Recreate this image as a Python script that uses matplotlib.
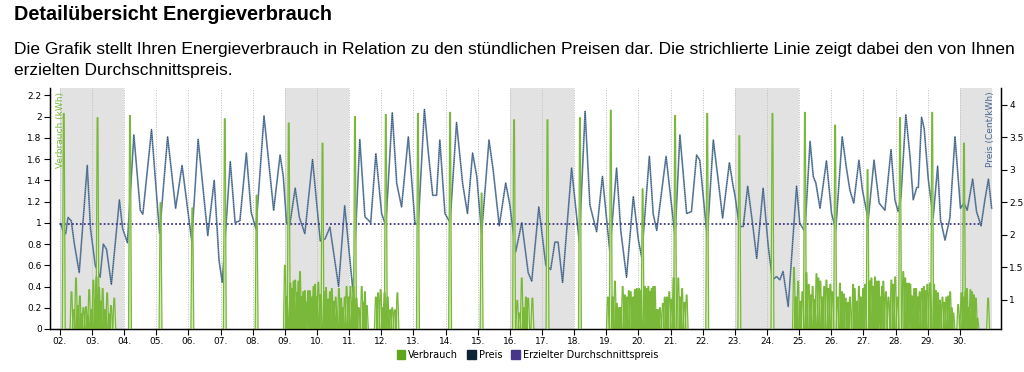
import numpy as np
import matplotlib
matplotlib.use("Agg")
import matplotlib.pyplot as plt
from matplotlib.patches import Patch

# hourly price, sampled at the turning points (day of month, Cent/kWh)
price_day = [2.0, 2.05, 2.12, 2.18, 2.25, 2.35, 2.45, 2.6, 2.85, 2.95, 3.1, 3.25, 3.35, 3.45, 3.6, 3.85, 3.95,
             4.1, 4.3, 4.5, 4.58, 4.85, 5.1, 5.35, 5.6, 5.8, 6.1, 6.3, 6.6, 6.8, 6.95, 7.05, 7.3, 7.45, 7.6,
             7.8, 7.95, 8.1, 8.35, 8.65, 8.85, 8.95, 9.05, 9.15, 9.32, 9.45, 9.62, 9.86, 10.1, 10.25, 10.4,
             10.67, 10.86, 11.12, 11.33, 11.49, 11.67, 11.83, 12.01, 12.14, 12.34, 12.48, 12.63, 12.84,
             13.05, 13.15, 13.34, 13.46, 13.6, 13.72, 13.82, 13.98, 14.14, 14.34, 14.53, 14.68, 14.84,
             14.97, 15.12, 15.35, 15.48, 15.67, 15.87, 16.0, 16.18, 16.37, 16.57, 16.68, 16.9, 17.12,
             17.27, 17.4, 17.5, 17.64, 17.92, 18.16, 18.34, 18.49, 18.7, 18.88, 19.11, 19.32, 19.45,
             19.63, 19.84, 20.0, 20.1, 20.34, 20.46, 20.57, 20.86, 21.14, 21.29, 21.5, 21.65, 21.81,
             21.91, 22.14, 22.33, 22.48, 22.62, 22.83, 22.95, 23.0, 23.14, 23.26, 23.4, 23.55, 23.68,
             23.88, 24.04, 24.17, 24.3, 24.4, 24.5, 24.66, 24.92, 25.02, 25.18, 25.34, 25.44, 25.52,
             25.65, 25.85, 26.01, 26.14, 26.34, 26.48, 26.58, 26.7, 26.86, 26.97, 27.15, 27.33, 27.49,
             27.67, 27.86, 27.98, 28.08, 28.17, 28.32, 28.45, 28.55, 28.66, 28.71, 28.81, 28.89, 29.02,
             29.17, 29.31, 29.4, 29.54, 29.69, 29.85, 30.02, 30.13, 30.23, 30.4, 30.52, 30.66, 30.78,
             30.89, 30.99]
price_ct = [2.17, 2.14, 2.01, 2.02, 2.27, 2.22, 1.86, 1.42, 3.07, 2.10, 1.53, 1.35, 1.86, 1.78, 1.24, 2.54, 2.10,
            1.88, 3.54, 2.38, 2.32, 3.62, 2.02, 3.51, 2.41, 3.07, 1.91, 3.47, 1.99, 2.84, 1.61, 1.27, 3.13, 2.19, 2.22,
            3.26, 2.35, 2.09, 3.83, 2.38, 3.23, 2.90, 2.19, 2.15, 2.72, 2.27, 2.02, 3.16, 1.91, 1.94, 2.12,
            1.21, 2.45, 1.12, 3.47, 2.28, 2.19, 3.25, 2.33, 2.14, 3.88, 2.79, 2.43, 3.51,
            2.17, 2.17, 3.93, 3.28, 2.61, 2.61, 3.46, 2.33, 2.19, 3.73, 2.79, 2.33, 3.26,
            2.90, 2.02, 3.46, 3.00, 2.14, 2.80, 2.46, 1.74, 2.19, 1.42, 1.29, 2.43, 1.53,
            1.47, 1.89, 1.89, 1.27, 3.03, 1.89, 3.90, 2.46, 2.05, 2.90, 1.74, 3.03, 2.07,
            1.35, 2.59, 1.92, 1.66, 3.21, 2.32, 2.07, 3.21, 1.97, 3.54, 2.33, 2.36, 3.23,
            3.15, 1.95, 3.46, 2.85, 2.26, 3.11, 2.74, 2.62, 2.13, 2.13, 2.75, 2.18, 1.64,
            2.72, 1.82, 1.31, 1.36, 1.31, 1.44, 0.90, 2.75, 2.18, 2.05, 3.44, 2.90, 2.80,
            2.41, 3.14, 2.33, 2.08, 3.51, 3.00, 2.69, 2.49, 3.15, 2.69, 2.23, 3.15, 2.49,
            2.38, 3.31, 2.54, 2.36, 2.59, 3.85, 3.21, 2.54, 2.73, 2.73, 3.81, 3.64, 2.85,
            2.26, 3.06, 2.23, 1.92, 2.26, 3.51, 2.41, 2.49, 2.38, 2.86, 2.36, 2.14, 2.54,
            2.86, 2.41]
avg_price = 2.17

# consumption peaks (day of month, kWh)
use_day = [2.12, 3.17, 4.18, 5.13, 6.12, 7.13, 8.12, 9.12, 10.17, 11.18, 12.14, 13.14, 14.14, 15.12,
           16.13, 17.17, 18.18, 19.14, 20.13, 21.14, 22.14, 23.14, 24.17, 25.18, 26.12, 27.13, 28.14,
           29.14, 30.13,
           2.36, 2.43, 2.5, 2.56, 2.62, 2.68, 2.73, 2.81, 2.86, 2.91, 2.97, 3.04, 3.09, 3.14, 3.22,
           3.28, 3.33, 3.4, 3.47, 3.53, 3.59, 3.69,
           9.0, 9.06, 9.17, 9.22, 9.27, 9.32, 9.38, 9.42, 9.47, 9.52, 9.57, 9.62, 9.68, 9.72, 9.78,
           9.84, 9.89, 9.94, 9.99, 10.04, 10.1, 10.22, 10.28, 10.34, 10.4, 10.46, 10.52, 10.58, 10.62,
           10.68, 10.75, 10.8, 10.86, 10.92, 10.98, 11.04, 11.09, 11.13, 11.23, 11.3, 11.39, 11.45,
           11.49, 11.55,
           11.83, 11.9, 11.98, 12.04, 12.1, 12.2, 12.28, 12.34, 12.42, 12.5,
           16.23, 16.3, 16.37, 16.44, 16.5, 16.57, 16.7,
           19.05, 19.2, 19.27, 19.33, 19.4, 19.45, 19.51, 19.58, 19.64, 19.7, 19.76, 19.83, 19.89,
           19.95, 20.02, 20.08, 20.2, 20.26, 20.31, 20.36, 20.41, 20.46, 20.51, 20.57, 20.62, 20.67,
           20.76, 20.82, 20.89, 20.96, 21.03, 21.09, 21.24, 21.3, 21.36, 21.43, 21.5,
           24.84, 24.9, 24.97, 25.03, 25.1, 25.23, 25.3, 25.36, 25.42, 25.48, 25.54, 25.6, 25.66,
           25.72, 25.78, 25.85, 25.91, 25.97, 26.03, 26.2, 26.27, 26.33, 26.39, 26.45, 26.52, 26.58,
           26.68, 26.73, 26.8, 26.86, 26.92, 26.99, 27.05, 27.2, 27.25, 27.31, 27.36, 27.42, 27.48,
           27.52, 27.58, 27.62, 27.7, 27.78, 27.87, 27.93, 27.99, 28.06, 28.24, 28.3, 28.36, 28.42,
           28.46, 28.52, 28.58, 28.64, 28.7, 28.75, 28.82, 28.88, 28.94, 28.99, 29.07, 29.2, 29.26,
           29.32, 29.38, 29.46, 29.52, 29.58, 29.64, 29.7, 29.75, 29.8, 29.95, 30.05, 30.1, 30.18,
           30.22, 30.28, 30.33, 30.38, 30.44, 30.5, 30.55, 30.88]
use_kwh = [2.03, 1.99, 2.01, 1.19, 1.14, 1.98, 1.26, 1.94, 1.75, 2.0, 2.02, 2.03, 2.04, 1.28,
           1.97, 1.97, 1.99, 2.06, 1.32, 2.01, 2.03, 1.82, 2.03, 2.04, 1.92, 1.5, 1.99,
           2.04, 1.75,
           0.35, 0.18, 0.48, 0.22, 0.31, 0.14, 0.2, 0.21, 0.12, 0.37, 0.18, 0.46, 0.28, 0.49, 0.39,
           0.26, 0.38, 0.18, 0.34, 0.14, 0.22, 0.29,
           0.6, 0.3, 0.43, 0.38, 0.45, 0.46, 0.34, 0.45, 0.54, 0.3, 0.35, 0.36, 0.25, 0.36, 0.36,
           0.3, 0.4, 0.42, 0.3, 0.44, 0.32, 0.35, 0.39, 0.28, 0.35, 0.38, 0.26, 0.3, 0.16,
           0.38, 0.29, 0.2, 0.3, 0.4, 0.3, 0.4, 0.25, 0.4, 0.29, 0.2, 0.4, 0.25,
           0.35, 0.22,
           0.3, 0.34, 0.37, 0.2, 0.34, 0.3, 0.18, 0.2, 0.18, 0.34,
           0.27, 0.15, 0.48, 0.2, 0.3, 0.29, 0.29,
           0.3, 0.3, 0.45, 0.24, 0.2, 0.2, 0.4, 0.32, 0.3, 0.36, 0.35, 0.3, 0.37,
           0.38, 0.38, 0.36, 0.4, 0.38, 0.4, 0.35, 0.38, 0.4, 0.4, 0.18, 0.18, 0.2,
           0.24, 0.3, 0.3, 0.35, 0.28, 0.48, 0.48, 0.3, 0.38, 0.25, 0.32,
           0.58, 0.3, 0.45, 0.26, 0.35, 0.53, 0.42, 0.32, 0.4, 0.28, 0.52, 0.48, 0.45,
           0.3, 0.4, 0.46, 0.38, 0.42, 0.35, 0.3, 0.43, 0.35, 0.33, 0.29, 0.25, 0.3,
           0.42, 0.38, 0.26, 0.4, 0.3, 0.38, 0.42, 0.45, 0.48, 0.4, 0.49, 0.45, 0.45,
           0.3, 0.4, 0.45, 0.35, 0.3, 0.46, 0.42, 0.49, 0.3, 0.54, 0.48, 0.43, 0.43,
           0.42, 0.31, 0.38, 0.38, 0.3, 0.35, 0.38, 0.4, 0.36, 0.42, 0.43, 0.42, 0.36,
           0.34, 0.27, 0.3, 0.25, 0.3, 0.31, 0.35, 0.2, 0.15, 0.23, 0.34, 0.3, 0.35,
           0.38, 0.2, 0.37, 0.35, 0.32, 0.29, 0.1, 0.29]

days = list(range(2, 31))
day_labels = ["%02d." % d for d in days]
weekends = [(2, 4), (9, 11), (16, 18), (23, 25), (30, 31)]

green_line = "#7ab83a"
green_fill = "#d6ecbc"
price_col = "#6f8cab"
price_dots = "#223a5c"
avg_col = "#3b3a80"

fig = plt.figure(figsize=(10.24, 3.72), dpi=100)
fig.text(0.014, 0.962, "Detailübersicht Energieverbrauch", fontsize=14.3, fontweight="bold",
         family="Liberation Sans", va="center")
fig.text(0.014, 0.868, "Die Grafik stellt Ihren Energieverbrauch in Relation zu den stündlichen Preisen dar. "
         "Die strichlierte Linie zeigt dabei den von Ihnen", fontsize=12.55, family="Liberation Sans",
         va="center")
fig.text(0.014, 0.81, "erzielten Durchschnittspreis.", fontsize=12.55, family="Liberation Sans", va="center")

ax = fig.add_axes([0.0488, 0.1156, 0.9287, 0.6478])
ax2 = ax.twinx()
ax.set_zorder(ax2.get_zorder() + 1)
ax.patch.set_visible(False)

# weekends and day grid go on the bottom axes
for a, b in weekends:
    ax2.axvspan(a, b, color="#e2e2e2", lw=0, zorder=0)
for d in days:
    ax2.axvline(d, color="#bdbdbd", lw=0.7, ls=(0, (1, 1.5)), zorder=0.5)

# price curve and average price
ax2.plot(price_day, price_ct, color=price_col, lw=1.2, zorder=2)
ax2.plot(price_day, price_ct, color=price_dots, lw=0.55, ls=(0, (1, 1.6)), zorder=2.1)
ax2.axhline(avg_price, xmin=0.0105, xmax=0.98, color=avg_col, lw=1.3, ls=(0, (1, 1.2)), zorder=3)

# consumption spikes, each one a narrow trapezoid
order = np.argsort(use_day)
t = np.array(use_day)[order]
h = np.array(use_kwh)[order]
w, top = 0.045, 0.012
for ti, hi in zip(t, h):
    ax.fill([ti - w, ti - top, ti + top, ti + w], [0, hi, hi, 0], color=green_fill, lw=0, zorder=1)
nan = np.full_like(t, np.nan)
zero = np.zeros_like(h)
xs = np.column_stack([t - w, t - top, t + top, t + w, nan]).ravel()
ys = np.column_stack([zero, h, h, zero, nan]).ravel()
ax.plot(xs, ys, color=green_line, lw=0.9, zorder=2)

ax.set_xlim(1.69, 31.28)
ax.set_ylim(0, 2.27)
ax2.set_ylim(0.554, 4.26)
ax.set_xticks(days)
ax.set_xticklabels(day_labels)
ax.set_yticks(np.arange(0, 2.3, 0.2))
ax.set_yticklabels(["0", "0.2", "0.4", "0.6", "0.8", "1", "1.2", "1.4", "1.6", "1.8", "2", "2.2"])
ax2.set_yticks([1, 1.5, 2, 2.5, 3, 3.5, 4])
ax2.set_yticklabels(["1", "1.5", "2", "2.5", "3", "3.5", "4"])
for a in (ax, ax2):
    a.tick_params(labelsize=6.5, length=4, width=0.8, pad=2)
    a.spines["top"].set_visible(False)
    for s in ("left", "right", "bottom"):
        a.spines[s].set_linewidth(0.9)

ax.text(0.006, 0.985, "Verbrauch (kWh)", transform=ax.transAxes, rotation=90, ha="left", va="top",
        fontsize=6.5, color="#79b83a", zorder=5)
ax.text(0.994, 0.985, "Preis (Cent/kWh)", transform=ax.transAxes, rotation=90, ha="right", va="top",
        fontsize=6.5, color="#4a6a92", zorder=5)

handles = [Patch(color="#5fa61c", label="Verbrauch"),
           Patch(color="#0e2238", label="Preis"),
           Patch(color="#46358a", label="Erzielter Durchschnittspreis")]
fig.legend(handles=handles, loc="center", bbox_to_anchor=(0.515, 0.046), ncol=3, frameon=False,
           fontsize=7, handlelength=0.9, handleheight=0.9, handletextpad=0.3, columnspacing=0.9)

fig.savefig("out.png", dpi=100)
